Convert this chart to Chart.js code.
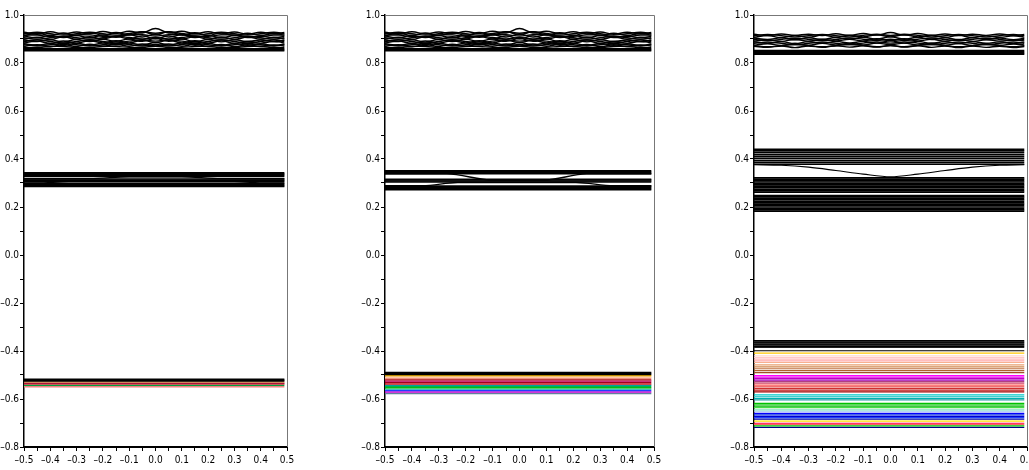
<!DOCTYPE html>
<html>
<head>
<meta charset="utf-8">
<script src="https://cdn.jsdelivr.net/npm/chart.js@4.4.1/dist/chart.umd.min.js"></script>
<style>
  html, body { margin: 0; padding: 0; background: #fff; overflow: hidden; }
  canvas { position: absolute; top: 0; }
</style>
</head>
<body>
<canvas id="panel1" width="300" height="470" style="left:0px"></canvas>
<canvas id="panel2" width="306" height="470" style="left:361px"></canvas>
<canvas id="panel3" width="302" height="470" style="left:730px"></canvas>
<script>
// axis ticks (labelled ones)
const xMajorTicks = [-0.5, -0.4, -0.3, -0.2, -0.1, 0.0, 0.1, 0.2, 0.3, 0.4, 0.5];
const yMajorTicks = [-0.8, -0.6, -0.4, -0.2, 0.0, 0.2, 0.4, 0.6, 0.8, 1.0];

// k-path ends
const lineStart = -0.5;
const lineEnd = 0.49;

// sample points of the wavy upper bands
const waveX = [-0.5, -0.45, -0.4, -0.35, -0.3, -0.25, -0.2, -0.15, -0.1, -0.05, 0.0,
               0.05, 0.1, 0.15, 0.2, 0.25, 0.3, 0.35, 0.4, 0.45, 0.49];

// panels 1 and 2: upper band
const topWavyP12 = [
  [0.928,0.920,0.930,0.921,0.929,0.922,0.931,0.923,0.932,0.925,0.944,0.925,0.932,0.922,0.930,0.921,0.929,0.920,0.928,0.921,0.927],
  [0.914,0.924,0.915,0.925,0.914,0.926,0.916,0.927,0.917,0.930,0.918,0.930,0.917,0.926,0.915,0.925,0.914,0.924,0.915,0.923,0.916],
  [0.912,0.905,0.915,0.906,0.914,0.905,0.916,0.907,0.917,0.908,0.920,0.908,0.917,0.906,0.915,0.905,0.914,0.906,0.913,0.905,0.911],
  [0.899,0.908,0.898,0.909,0.899,0.910,0.900,0.911,0.900,0.913,0.901,0.913,0.900,0.910,0.899,0.909,0.898,0.908,0.899,0.907,0.900],
  [0.896,0.889,0.897,0.888,0.898,0.889,0.899,0.890,0.900,0.890,0.902,0.890,0.900,0.889,0.898,0.888,0.897,0.889,0.896,0.888,0.895],
  [0.883,0.891,0.882,0.892,0.883,0.893,0.884,0.893,0.884,0.895,0.885,0.895,0.884,0.893,0.883,0.892,0.882,0.891,0.883,0.890,0.884],
  [0.880,0.874,0.881,0.873,0.882,0.874,0.883,0.875,0.883,0.875,0.885,0.875,0.883,0.874,0.882,0.873,0.881,0.874,0.880,0.873,0.879],
  [0.869,0.876,0.868,0.877,0.869,0.878,0.870,0.878,0.870,0.879,0.871,0.879,0.870,0.878,0.869,0.877,0.868,0.876,0.869,0.875,0.870],
  [0.922,0.928,0.922,0.916,0.922,0.928,0.922,0.916,0.923,0.930,0.924,0.930,0.923,0.916,0.922,0.928,0.922,0.916,0.922,0.928,0.922],
  [0.905,0.899,0.905,0.911,0.905,0.899,0.905,0.912,0.906,0.900,0.906,0.900,0.906,0.912,0.905,0.899,0.905,0.911,0.905,0.899,0.905],
  [0.890,0.896,0.890,0.884,0.890,0.896,0.890,0.884,0.891,0.897,0.891,0.897,0.891,0.884,0.890,0.896,0.890,0.884,0.890,0.896,0.890],
  [0.876,0.871,0.876,0.882,0.876,0.871,0.876,0.882,0.877,0.871,0.877,0.871,0.877,0.882,0.876,0.871,0.876,0.882,0.876,0.871,0.876],
  [0.916,0.916,0.910,0.910,0.917,0.917,0.911,0.911,0.918,0.918,0.912,0.918,0.918,0.911,0.911,0.917,0.917,0.910,0.910,0.916,0.916],
  [0.864,0.864,0.869,0.869,0.864,0.864,0.869,0.869,0.865,0.865,0.870,0.865,0.865,0.869,0.869,0.864,0.864,0.869,0.869,0.864,0.864]
];
const topFlatP12 = [0.851, 0.855, 0.859];

// panel 1: middle band
const p1MidFlat = [0.285, 0.289, 0.293, 0.297, 0.305, 0.309, 0.313, 0.317, 0.327, 0.331, 0.335, 0.339, 0.343];
const p1CrossX1 = [-0.5, -0.25, -0.1, 0.1, 0.25, 0.49];
const p1CrossY1 = [0.318, 0.318, 0.326, 0.326, 0.318, 0.318];
const p1CrossX2 = [-0.5, -0.45, -0.33, 0.3, 0.42, 0.49];
const p1CrossY2 = [0.300, 0.300, 0.306, 0.306, 0.300, 0.300];

// panel 1: lower band
const p1LowLevels = [-0.518, -0.522, -0.525, -0.529, -0.534, -0.538, -0.543, -0.549];
const p1LowColors = ['#000000', '#000000', '#000000', '#d08848', '#b0103a', '#d04040', '#00a040', '#f08080'];

// panel 2: middle band
const p2MidFlat = [0.272, 0.276, 0.280, 0.284, 0.288, 0.304, 0.308, 0.312, 0.316, 0.339, 0.343, 0.347, 0.351];
const p2CrossX1 = [-0.5, -0.27, -0.1, 0.09, 0.25, 0.49];
const p2CrossY1 = [0.338, 0.338, 0.312, 0.312, 0.338, 0.338];
const p2CrossX2 = [-0.5, -0.36, -0.23, 0.21, 0.35, 0.49];
const p2CrossY2 = [0.289, 0.289, 0.302, 0.302, 0.289, 0.289];

// panel 2: lower band
const p2LowLevels = [-0.490, -0.494, -0.498, -0.503, -0.509, -0.514, -0.520, -0.525, -0.531, -0.537,
                     -0.543, -0.548, -0.553, -0.559, -0.565, -0.571, -0.577];
const p2LowColors = ['#000000', '#000000', '#000000', '#f0b000', '#ffc8a8', '#f09080', '#c04040', '#c00060',
                     '#a00020', '#e02020', '#00a0a0', '#00b050', '#00c000', '#40c0c0', '#2040ff', '#d000d0', '#6080a0'];

// panel 3: upper band
const p3TopWavy = [
  [0.920,0.914,0.921,0.915,0.920,0.914,0.922,0.915,0.923,0.916,0.927,0.916,0.923,0.915,0.921,0.914,0.920,0.915,0.921,0.914,0.919],
  [0.907,0.914,0.906,0.915,0.907,0.916,0.908,0.916,0.909,0.918,0.909,0.918,0.909,0.916,0.907,0.915,0.906,0.914,0.907,0.913,0.908],
  [0.904,0.898,0.905,0.897,0.905,0.898,0.906,0.899,0.907,0.899,0.909,0.899,0.907,0.898,0.905,0.897,0.905,0.898,0.904,0.897,0.903],
  [0.891,0.897,0.890,0.898,0.891,0.899,0.892,0.899,0.892,0.901,0.893,0.901,0.892,0.899,0.891,0.898,0.890,0.897,0.891,0.896,0.892],
  [0.888,0.882,0.889,0.881,0.889,0.882,0.890,0.883,0.890,0.883,0.892,0.883,0.890,0.882,0.889,0.881,0.889,0.882,0.888,0.881,0.887],
  [0.874,0.880,0.873,0.881,0.874,0.882,0.875,0.882,0.875,0.883,0.876,0.883,0.875,0.882,0.874,0.881,0.873,0.880,0.874,0.879,0.875],
  [0.870,0.865,0.871,0.864,0.871,0.865,0.872,0.866,0.872,0.866,0.873,0.866,0.872,0.865,0.871,0.864,0.871,0.865,0.870,0.864,0.869],
  [0.914,0.919,0.914,0.909,0.914,0.919,0.914,0.909,0.915,0.920,0.915,0.920,0.915,0.909,0.914,0.919,0.914,0.909,0.914,0.919,0.914],
  [0.898,0.893,0.898,0.903,0.898,0.893,0.898,0.904,0.899,0.894,0.899,0.894,0.899,0.904,0.898,0.893,0.898,0.903,0.898,0.893,0.898],
  [0.882,0.887,0.882,0.877,0.882,0.887,0.882,0.877,0.883,0.888,0.883,0.888,0.883,0.877,0.882,0.887,0.882,0.877,0.882,0.887,0.882],
  [0.872,0.868,0.872,0.877,0.872,0.868,0.872,0.877,0.873,0.868,0.873,0.868,0.873,0.877,0.872,0.868,0.872,0.877,0.872,0.868,0.872]
];
const p3TopFlat = [0.836, 0.840, 0.844, 0.848, 0.852];

// panel 3: middle band
const p3MidFlat = [0.182, 0.188, 0.194, 0.200, 0.206, 0.212, 0.218, 0.224, 0.230, 0.236, 0.242, 0.248,
                   0.262, 0.268, 0.274, 0.280, 0.286, 0.292, 0.298, 0.304, 0.310, 0.316, 0.322,
                   0.378, 0.386, 0.394, 0.402, 0.410, 0.418, 0.426, 0.434, 0.440];
const p3DipX = [-0.5, -0.4, -0.3, -0.2, -0.1, 0.0, 0.1, 0.2, 0.3, 0.4, 0.49];
const p3DipY = [0.376, 0.374, 0.366, 0.352, 0.337, 0.326, 0.337, 0.352, 0.366, 0.374, 0.376];

// panel 3: lower band
const p3LowLevels = [-0.357, -0.361, -0.365, -0.369, -0.373, -0.377, -0.381, -0.385, -0.399,
                     -0.409, -0.420, -0.427, -0.434, -0.441, -0.448, -0.458, -0.466, -0.474, -0.482, -0.490,
                     -0.503, -0.509, -0.515, -0.521, -0.528, -0.534, -0.542, -0.549, -0.556, -0.563, -0.570,
                     -0.583, -0.590, -0.597, -0.604, -0.618, -0.624, -0.630, -0.636, -0.645, -0.651,
                     -0.660, -0.666, -0.672, -0.678, -0.684, -0.692, -0.701, -0.706, -0.712, -0.718];
const p3LowColors = ['#000000', '#303030', '#000000', '#404040', '#000000', '#303030', '#000000', '#202020', '#000000',
                     '#ffc800', '#ffd8cc', '#ffc8c8', '#ffb8b8', '#ffa8a8', '#f8b090', '#e8a070', '#d08850', '#c07040', '#b06030', '#a05028',
                     '#ff00ff', '#e000e8', '#c000c8', '#a000b0', '#b04080', '#d04060', '#ff5050', '#e84040', '#d03030', '#c01010', '#a00000',
                     '#00c8c8', '#40d0d0', '#00b0b0', '#20a0a0', '#00c000', '#20d020', '#00b000', '#40e040', '#80e0c0', '#a0c8f0',
                     '#0000ff', '#1030e0', '#0000d0', '#2040ff', '#0000a0', '#ffe000', '#ff0040', '#ff6060', '#00c000', '#000080'];

const tickFont = { family: "'Liberation Sans Narrow', 'DejaVu Sans Condensed', 'Arial Narrow', sans-serif", size: 10 };

function flatLines(levels, colors, width) {
    return levels.map((level, i) => ({
        data: [{ x: lineStart, y: level }, { x: lineEnd, y: level }],
        borderColor: Array.isArray(colors) ? colors[i] : colors,
        borderWidth: width,
        tension: 0
    }));
}

function wavyLines(rows) {
    return rows.map(row => ({
        data: waveX.map((x, i) => ({ x: x, y: row[i] })),
        borderColor: '#000',
        borderWidth: 1.4,
        tension: 0.4
    }));
}

function pathLine(xs, ys, width) {
    return {
        data: xs.map((x, i) => ({ x: x, y: ys[i] })),
        borderColor: '#000',
        borderWidth: width,
        cubicInterpolationMode: 'monotone'
    };
}

function withMinor(majors) {
    const out = [];
    majors.forEach((v, i) => {
        out.push({ value: v });
        if (i < majors.length - 1) out.push({ value: (v + majors[i + 1]) / 2 });
    });
    return out;
}

function fmt(v) {
    return (Math.abs(v) < 1e-9 ? 0 : v).toFixed(1).replace('-', '\u2013');
}

function isMajor(v, majors) {
    return majors.some(m => Math.abs(m - v) < 1e-9);
}

const framePlugin = {
    id: 'frame',
    afterDraw(chart) {
        const a = chart.chartArea;
        const c = chart.ctx;
        c.save();
        c.strokeStyle = '#777';
        c.lineWidth = 1;
        c.beginPath();
        c.moveTo(a.left, a.top + 0.5);
        c.lineTo(a.right + 0.5, a.top + 0.5);
        c.lineTo(a.right + 0.5, a.bottom);
        c.stroke();
        c.restore();
    }
};

function makePanel(id, datasets, padRight) {
    new Chart(document.getElementById(id), {
        type: 'line',
        data: { datasets: datasets },
        plugins: [framePlugin],
        options: {
            responsive: false,
            animation: false,
            events: [],
            layout: { padding: { top: 15, right: padRight, left: 0, bottom: 0 } },
            elements: { point: { radius: 0 } },
            plugins: { legend: { display: false }, tooltip: { enabled: false } },
            scales: {
                x: {
                    type: 'linear',
                    min: -0.5,
                    max: 0.5,
                    afterBuildTicks: s => { s.ticks = withMinor(xMajorTicks); },
                    afterFit: s => { s.height = 23; s.paddingLeft = 0; s.paddingRight = 0; },
                    ticks: {
                        autoSkip: false,
                        maxRotation: 0,
                        padding: 3,
                        color: '#000',
                        font: tickFont,
                        callback: v => isMajor(v, xMajorTicks) ? fmt(v) : ''
                    },
                    grid: { drawOnChartArea: false, drawTicks: true, tickLength: 4, color: '#000', lineWidth: 1 },
                    border: { color: '#000', width: 2 }
                },
                y: {
                    type: 'linear',
                    min: -0.8,
                    max: 1.0,
                    afterBuildTicks: s => { s.ticks = withMinor(yMajorTicks); },
                    afterFit: s => { s.width = 24; s.paddingTop = 0; s.paddingBottom = 0; },
                    ticks: {
                        autoSkip: false,
                        padding: 1,
                        color: '#000',
                        font: tickFont,
                        callback: v => isMajor(v, yMajorTicks) ? fmt(v) : ''
                    },
                    grid: { drawOnChartArea: false, drawTicks: true, tickLength: 4, color: '#000', lineWidth: 1 },
                    border: { color: '#000', width: 1.5 }
                }
            }
        }
    });
}

makePanel('panel1', [
    ...wavyLines(topWavyP12),
    ...flatLines(topFlatP12, '#000', 1.5),
    ...flatLines(p1MidFlat, '#000', 1.5),
    pathLine(p1CrossX1, p1CrossY1, 1.3),
    pathLine(p1CrossX2, p1CrossY2, 1.3),
    ...flatLines(p1LowLevels, p1LowColors, 1.5)
], 13);

makePanel('panel2', [
    ...wavyLines(topWavyP12),
    ...flatLines(topFlatP12, '#000', 1.5),
    ...flatLines(p2MidFlat, '#000', 1.5),
    pathLine(p2CrossX1, p2CrossY1, 1.3),
    pathLine(p2CrossX2, p2CrossY2, 1.3),
    ...flatLines(p2LowLevels, p2LowColors, 1.5)
], 13);

makePanel('panel3', [
    ...wavyLines(p3TopWavy),
    ...flatLines(p3TopFlat, '#000', 1.5),
    ...flatLines(p3MidFlat, '#000', 1.6),
    pathLine(p3DipX, p3DipY, 1.2),
    ...flatLines(p3LowLevels, p3LowColors, 1.2)
], 5);
</script>
</body>
</html>
